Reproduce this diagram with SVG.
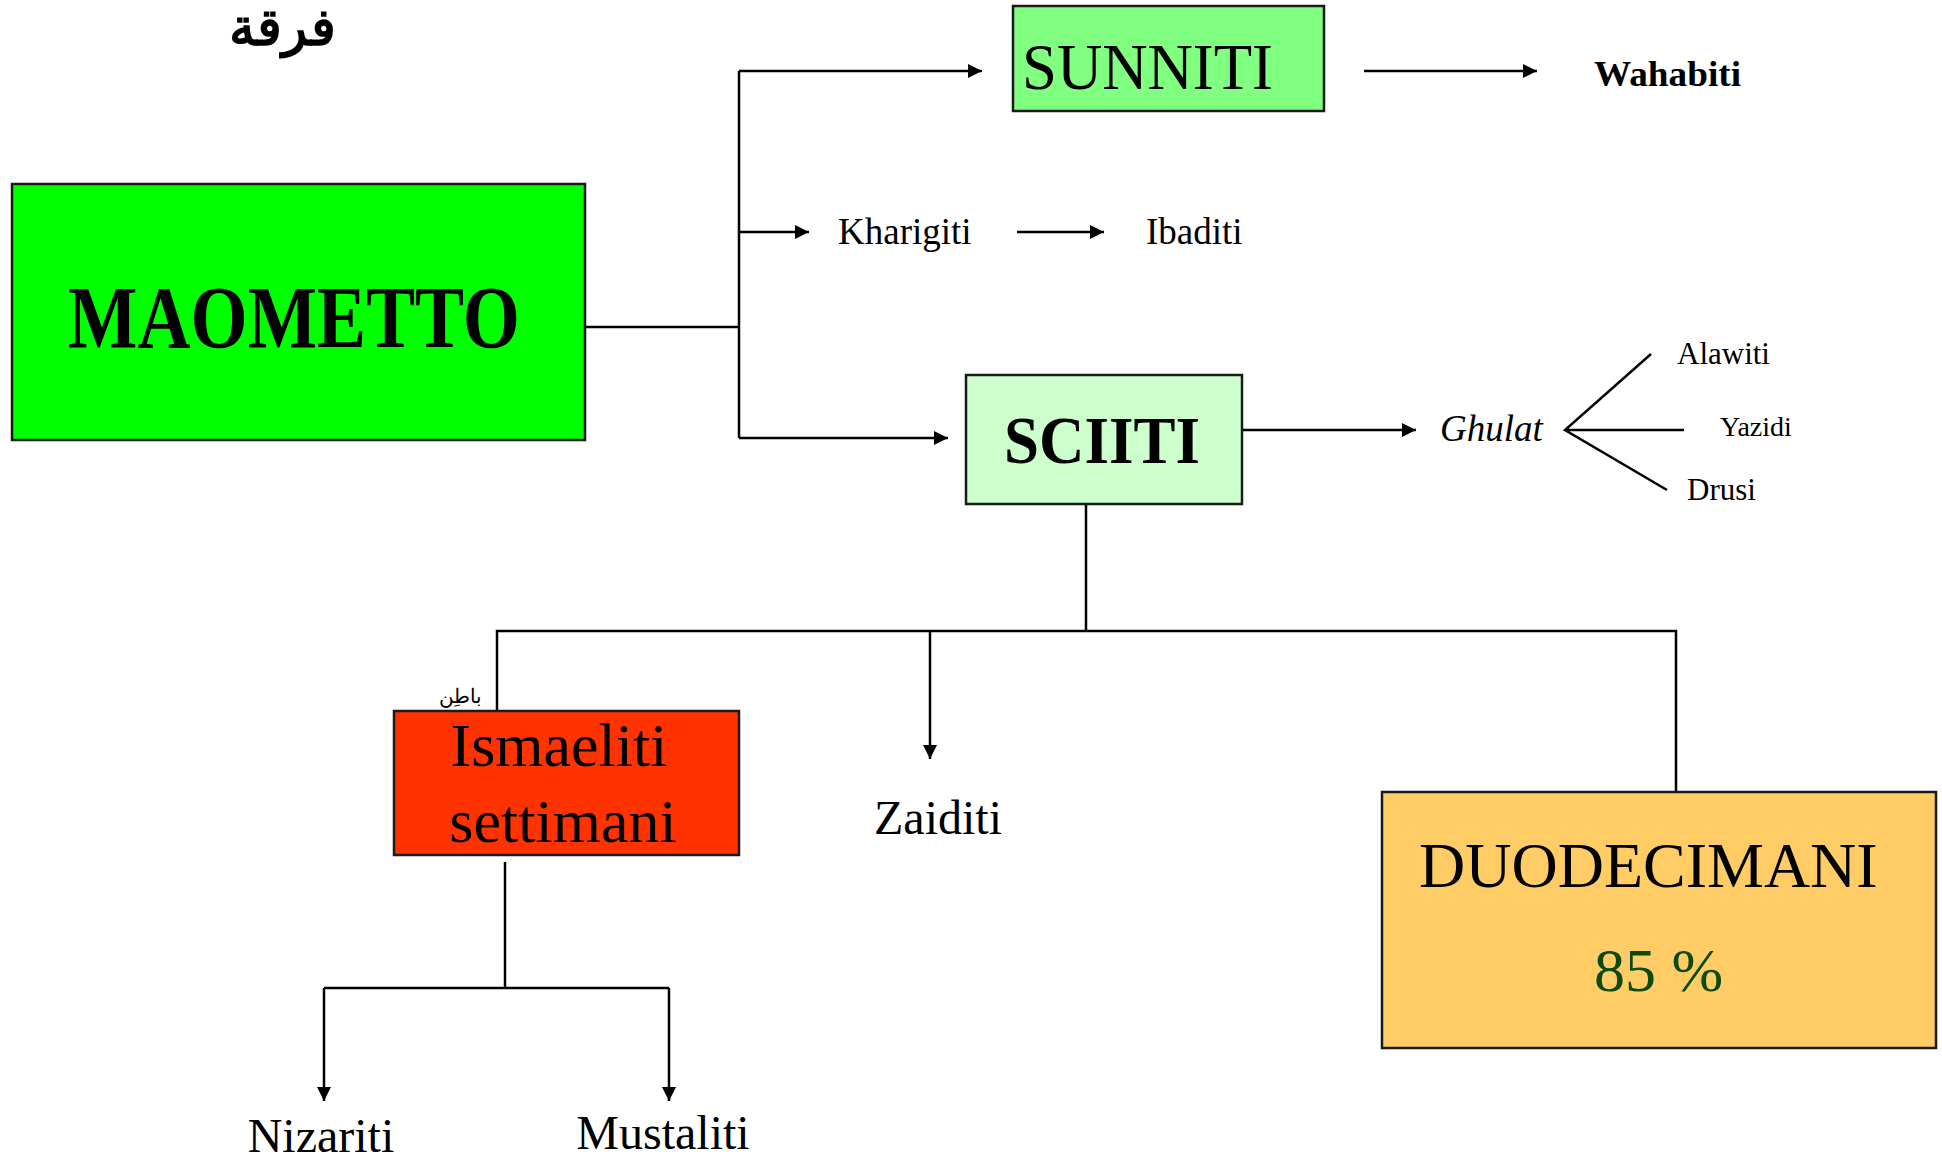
<svg xmlns="http://www.w3.org/2000/svg" width="1942" height="1159" viewBox="0 0 1942 1159">
<style>
.box{stroke:#1a1a1a;stroke-width:2.5}
.ln{fill:none;stroke:#000;stroke-width:2.5}
.t{font-family:"Liberation Serif","Times New Roman",serif;fill:#000}
.b{font-weight:bold}
</style>
<defs>
<marker id="ah" viewBox="0 0 10 10" refX="10" refY="5" markerWidth="16" markerHeight="14" markerUnits="userSpaceOnUse" orient="auto">
<path d="M0,0 L10,5 L0,10 Z" fill="#000"/>
</marker>
</defs>
<rect width="1942" height="1159" fill="#fff"/>

<text class="t b" x="282" y="45" font-size="52" text-anchor="middle" font-family="'DejaVu Sans','Noto Sans',sans-serif">فرقة</text>

<g id="connectors">
<path class="ln" d="M585,327 H739"/>
<path class="ln" d="M739,71 V438"/>
<path class="ln" d="M739,71 H982" marker-end="url(#ah)"/>
<path class="ln" d="M739,232 H809" marker-end="url(#ah)"/>
<path class="ln" d="M739,438 H948" marker-end="url(#ah)"/>
<path class="ln" d="M1364,71 H1537" marker-end="url(#ah)"/>
<path class="ln" d="M1017,232 H1104" marker-end="url(#ah)"/>
<path class="ln" d="M1242,430 H1416" marker-end="url(#ah)"/>
<path class="ln" d="M1651,354 L1565,430 L1667,490 M1565,430 H1684"/>
<path class="ln" d="M1086,504 V631"/>
<path class="ln" d="M497,711 V631 H1676 V791"/>
<path class="ln" d="M930,631 V759" marker-end="url(#ah)"/>
<path class="ln" d="M505,862 V988"/>
<path class="ln" d="M324,988 H669"/>
<path class="ln" d="M324,988 V1101" marker-end="url(#ah)"/>
<path class="ln" d="M669,988 V1101" marker-end="url(#ah)"/>
</g>

<g id="maometto">
<rect class="box" x="12" y="184" width="573" height="256" fill="#00FF00"/>
<text class="t b" x="294" y="347" font-size="88" text-anchor="middle" textLength="452" lengthAdjust="spacingAndGlyphs">MAOMETTO</text>
</g>

<g id="sunniti">
<rect class="box" x="1013" y="6" width="311" height="105" fill="#80FF80"/>
<text class="t" x="1022" y="89" font-size="66" textLength="251" lengthAdjust="spacingAndGlyphs">SUNNITI</text>
</g>

<g id="wahabiti">
<text class="t b" x="1594" y="86" font-size="36" textLength="147" lengthAdjust="spacingAndGlyphs">Wahabiti</text>
</g>

<g id="kharigiti">
<text class="t" x="838" y="244" font-size="37">Kharigiti</text>
</g>
<g id="ibaditi">
<text class="t" x="1146" y="244" font-size="37">Ibaditi</text>
</g>

<g id="sciiti">
<rect class="box" x="966" y="375" width="276" height="129" fill="#CCFFCC"/>
<text class="t b" x="1102" y="463" font-size="68" text-anchor="middle" textLength="196" lengthAdjust="spacingAndGlyphs">SCIITI</text>
</g>

<g id="ghulat">
<text class="t" x="1440" y="441" font-size="37" font-style="italic">Ghulat</text>
</g>
<g id="alawiti"><text class="t" x="1677" y="364" font-size="31">Alawiti</text></g>
<g id="yazidi"><text class="t" x="1720" y="436" font-size="28">Yazidi</text></g>
<g id="drusi"><text class="t" x="1687" y="500" font-size="31">Drusi</text></g>

<g id="batin">
<text class="t" x="482" y="703" font-size="20" text-anchor="end" font-family="'DejaVu Sans','Noto Sans',sans-serif">باطِن</text>
</g>

<g id="ismaeliti">
<rect class="box" x="394" y="711" width="345" height="144" fill="#FF3300"/>
<text class="t" x="559" y="766" font-size="62" text-anchor="middle">Ismaeliti</text>
<text class="t" x="563" y="842" font-size="62" text-anchor="middle">settimani</text>
</g>

<g id="zaiditi">
<text class="t" x="938" y="834" font-size="48" text-anchor="middle">Zaiditi</text>
</g>

<g id="duodecimani">
<rect class="box" x="1382" y="792" width="554" height="256" fill="#FFCC66"/>
<text class="t" x="1419" y="887" font-size="64">DUODECIMANI</text>
<text class="t" x="1594" y="991" font-size="62" fill="#0B4A0B" style="fill:#0B4A0B">85 %</text>
</g>

<g id="nizariti"><text class="t" x="321" y="1152" font-size="48" text-anchor="middle">Nizariti</text></g>
<g id="mustaliti"><text class="t" x="663" y="1149" font-size="48" text-anchor="middle">Mustaliti</text></g>
</svg>
